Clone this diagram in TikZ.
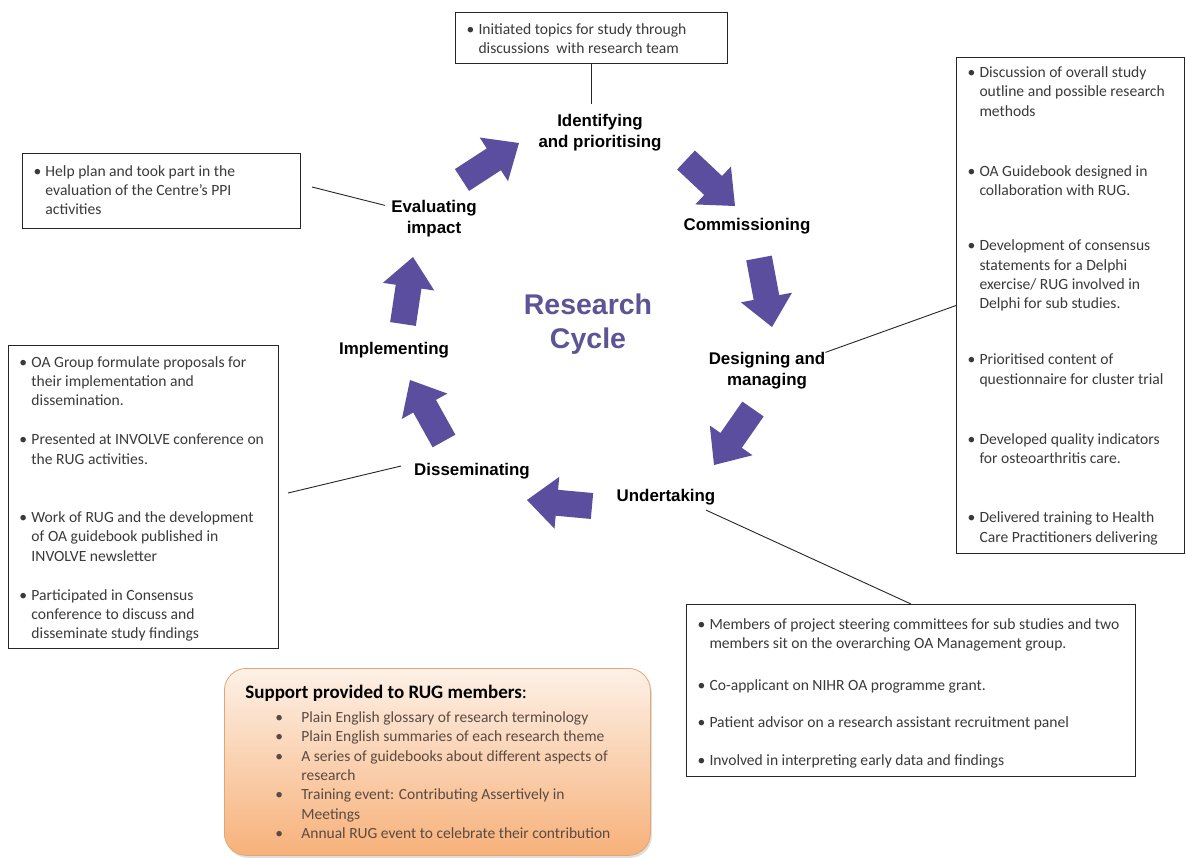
\documentclass[tikz,border=0pt]{standalone}
\usepackage{fontspec}
\setmainfont{Carlito}
\newfontfamily\labfont{Liberation Sans}
\usetikzlibrary{calc,shadows}
\definecolor{arrowc}{HTML}{5C4E9E}
\definecolor{cyclec}{HTML}{5B5596}
\definecolor{boxtext}{HTML}{3A3A3A}
\definecolor{suptext}{HTML}{5A4A42}
\definecolor{supborder}{HTML}{E2A673}
\definecolor{suptop}{HTML}{FDF1E7}
\definecolor{supbot}{HTML}{F7B17A}

\newcommand\itm[2]{\par\vspace{#1pt}\noindent\hangindent=12pt\hangafter=1\let\\\newline\makebox[12pt][l]{\strut\textbullet}#2\par}
\newcommand\boxtext[4]{\parbox[c][#2pt][t]{#1pt}{\vspace*{#3pt}\fontsize{15.6}{19.4}\selectfont\color{boxtext}\raggedright\leftskip=11pt #4}}
\newcommand\supitm[2]{\par\vspace{#1pt}\noindent\hangindent=26pt\hangafter=1\let\\\newline\makebox[26pt][l]{\strut\textbullet}#2\par}
\newcommand\cyclearrow[2]{%
  \fill[arrowc] ($(#1)!13pt!90:(#2)$) -- ($(#2)!30pt!(#1)!13pt!-90:(#1)$) -- ($(#2)!30pt!(#1)!26pt!-90:(#1)$) -- (#2)
   -- ($(#2)!30pt!(#1)!26pt!90:(#1)$) -- ($(#2)!30pt!(#1)!13pt!90:(#1)$) -- ($(#1)!13pt!-90:(#2)$) -- cycle;}

\tikzset{
  lab/.style={font=\labfont\bfseries\fontsize{16.9}{21}\selectfont, align=center, inner sep=0pt, text=black},
  infobox/.style={draw=black!85, line width=1pt, inner sep=0pt, anchor=north west},
  conn/.style={draw=black!85, line width=0.9pt},
}

\begin{document}
\begin{tikzpicture}[x=1pt,y=-1pt]
\useasboundingbox[fill=white] (0,0) rectangle (1186,857);

% stage labels
\node[lab] (lid)  at (600,133) {Identifying\\and prioritising};
\node[lab] (lcom) at (747,226) {Commissioning};
\node[lab] (ldes) at (767,371) {Designing and\\managing};
\node[lab] (lund) at (666,497) {Undertaking};
\node[lab] (ldis) at (472,471) {Disseminating};
\node[lab] (limp) at (394,350) {Implementing};
\node[lab] (leva) at (434,219) {Evaluating\\impact};
\node[font=\labfont\bfseries\fontsize{28.5}{34}\selectfont, align=center, text=cyclec, inner sep=0pt] (rc) at (588,324) {Research\\Cycle};

% cycle arrows
\coordinate (a1t) at (462,180); \coordinate (a1h) at (519,143);
\coordinate (a2t) at (686,160); \coordinate (a2h) at (735,206);
\coordinate (a3t) at (759,258); \coordinate (a3h) at (772,327);
\coordinate (a4t) at (753,409); \coordinate (a4h) at (714,465);
\coordinate (a5t) at (592,506); \coordinate (a5h) at (527,500);
\coordinate (a6t) at (444,441); \coordinate (a6h) at (410,380);
\coordinate (a7t) at (403,324); \coordinate (a7h) at (413,257);
\cyclearrow{a1t}{a1h}
\cyclearrow{a2t}{a2h}
\cyclearrow{a3t}{a3h}
\cyclearrow{a4t}{a4h}
\cyclearrow{a5t}{a5h}
\cyclearrow{a6t}{a6h}
\cyclearrow{a7t}{a7h}

% info boxes
\node[infobox] (btop) at (455,12) {\boxtext{272}{51}{8}{%
  \itm{0}{Initiated topics for study through\\discussions\ \ with research team}}};

\node[infobox] (blt) at (22,153) {\boxtext{278}{75}{9}{%
  \itm{0}{Help plan and took part in the\\evaluation of the Centre’s PPI\\activities}}};

\node[infobox] (bright) at (956,57) {\boxtext{228}{496}{6.5}{%
  \itm{0}{Discussion of overall study\\outline and possible research\\methods}
  \itm{40.6}{OA Guidebook designed in\\collaboration with RUG.}
  \itm{35.6}{Development of consensus\\statements for a Delphi\\exercise/ RUG involved in\\Delphi for sub studies.}
  \itm{36.6}{Prioritised content of\\questionnaire for cluster trial}
  \itm{40.6}{Developed quality indicators\\for osteoarthritis care.}
  \itm{39.6}{Delivered training to Health\\Care Practitioners delivering}}};

\node[infobox] (bleft) at (8,345) {\boxtext{270}{303}{8}{%
  \itm{0}{OA Group formulate proposals for\\their implementation and\\dissemination.}
  \itm{19.6}{Presented at INVOLVE conference on\\the RUG activities.}
  \itm{38.6}{Work of RUG and the development\\of OA guidebook published in\\INVOLVE newsletter}
  \itm{19.6}{Participated in Consensus\\conference to discuss and\\disseminate study findings}}};

\node[infobox] (bbr) at (686,604) {\boxtext{449}{172}{11.5}{%
  \itm{0}{Members of project steering committees for sub studies and two\\members sit on the overarching OA Management group.}
  \itm{22.6}{Co-applicant on NIHR OA programme grant.}
  \itm{17.6}{Patient advisor on a research assistant recruitment panel}
  \itm{18.6}{Involved in interpreting early data and findings}}};

% support box
\node[anchor=north west, draw=supborder, line width=0.8pt, rounded corners=22pt, inner sep=0pt,
  top color=suptop, bottom color=supbot,
  drop shadow={shadow xshift=1.5pt, shadow yshift=-2.5pt, opacity=0.25}] (bsup) at (224,668)
  {\parbox[c][187pt][t]{426pt}{\vspace*{17pt}\fontsize{15.5}{19.4}\selectfont\raggedright
   \leftskip=21pt\noindent{\fontsize{19}{19.4}\selectfont{\bfseries\strut Support provided to RUG members}:}\par
   \leftskip=51pt\color{suptext}
   \supitm{4}{Plain English glossary of research terminology}
   \supitm{0}{Plain English summaries of each research theme}
   \supitm{0}{A series of guidebooks about different aspects of\\research}
   \supitm{0}{Training event: Contributing Assertively in\\Meetings}
   \supitm{0}{Annual RUG event to celebrate their contribution}}};

% connectors
\draw[conn] (btop.south) -- ($(btop.south |- lid.north)+(0,-10)$);
\draw[conn] ($(blt.east)+(11,-4)$) -- ($(leva.north west)+(-6,5)$);
\draw[conn] (ldes.north east) -- (bright.west);
\draw[conn] ($(bleft.east)+(9,-4)$) -- ($(ldis.west)+(-13,-5)$);
\draw[conn] ($(lund.south)+(40,5)$) -- (bbr.north);
\end{tikzpicture}
\end{document}
